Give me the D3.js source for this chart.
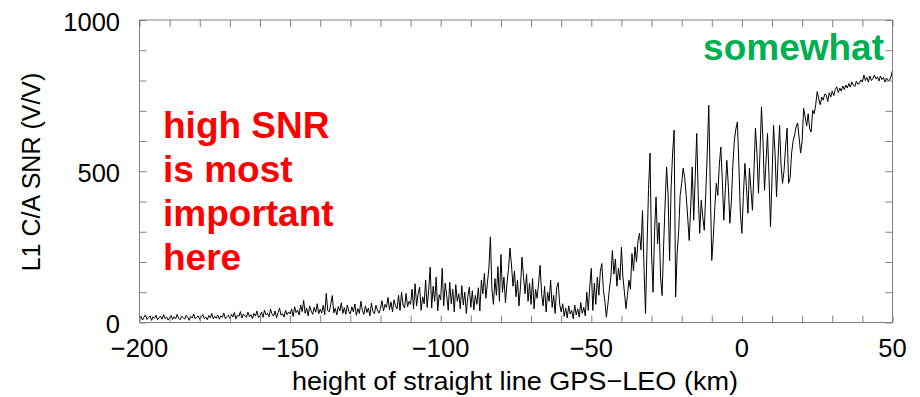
<!DOCTYPE html>
<html>
<head>
<meta charset="utf-8">
<script src="https://cdn.jsdelivr.net/npm/d3@7"></script>
<style>
  html, body { margin: 0; padding: 0; background: #fff; }
  svg { display: block; }
  text { font-family: "Liberation Sans", Arial, Helvetica, sans-serif; }
</style>
</head>
<body>
<svg id="chart" width="920" height="397"></svg>
<script>
// ---- data ----
const heightStart = -200;   // km
const heightStep = 0.5;     // km between samples
const snrValues = [
  // -200 .. -190.5
  12, 20, 8, 18, 25, 10, 16, 22, 7, 19, 14, 24, 9, 17, 21, 11, 26, 13, 18, 8,
  // -190 .. -180.5
  15, 23, 10, 19, 12, 27, 14, 9, 21, 16, 11, 24, 18, 7, 20, 15, 28, 12, 17, 22,
  // -180 .. -170.5
  10, 19, 26, 13, 18, 9, 23, 16, 30, 12, 20, 14, 25, 11, 22, 17, 31, 13, 19, 24,
  // -170 .. -160.5
  14, 27, 18, 33, 12, 24, 20, 36, 15, 28, 22, 17, 34, 19, 26, 13, 30, 21, 38, 16,
  // -160 .. -150.5
  22, 35, 17, 41, 25, 30, 19, 44, 28, 21, 38, 16, 33, 47, 24, 29, 18, 40, 26, 35,
  // -150 .. -140.5
  28, 45, 20, 52, 33, 41, 25, 58, 36, 73, 30, 48, 22, 55, 38, 27, 50, 34, 62, 29,
  // -140 .. -130.5
  44, 31, 57, 26, 96, 40, 35, 60, 89, 32, 47, 25, 53, 38, 65, 30, 49, 27, 58, 36,
  // -130 .. -120.5
  28, 52, 35, 61, 24, 46, 30, 70, 39, 27, 55, 33, 48, 22, 64, 37, 29, 57, 41, 31,
  // -120 .. -110.5
  46, 72, 38, 60, 50, 83, 42, 68, 35, 75, 55, 45, 90, 40, 100, 58, 48, 96, 52, 70,
  // -110 .. -100.5
  60, 110, 45, 128, 55, 95, 117, 40, 85, 62, 140, 50, 105, 183, 48, 120, 70, 150, 38, 92,
  // -100 .. -90.5
  75, 179, 55, 130, 88, 40, 133, 62, 110, 35, 125, 70, 95, 45, 122, 58, 100, 30, 85, 117,
  // -90 .. -80.5
  50, 105, 42, 90, 60, 115, 38, 140, 95, 162, 80, 130, 180, 283, 110, 60, 145, 90, 185, 70,
  // -80 .. -70.5
  225, 100, 150, 65, 130, 175, 246, 190, 120, 170, 85, 140, 55, 120, 216, 150, 95, 160, 70, 130,
  // -70 .. -60.5
  60, 145, 45, 110, 80, 130, 189, 95, 55, 120, 35, 100, 70, 140, 50, 90, 30, 115, 132, 60,
  // -60 .. -50.5
  35, 62, 20, 48, 15, 55, 28, 40, 12, 58, 25, 45, 18, 66, 30, 50, 22, 100, 40, 120,
  // -50 .. -40.5
  179, 40, 130, 60, 150, 90, 170, 195, 110, 70, 18, 60, 110, 150, 238, 160, 210, 120, 180, 140,
  // -40 .. -30.5
  249, 150, 100, 46, 90, 140, 110, 228, 170, 250, 200, 270, 295, 240, 370, 180, 30, 250, 440, 560,
  // -30 .. -20.5
  230, 100, 300, 415, 260, 330, 150, 89, 250, 394, 514, 420, 205, 448, 560, 636, 84, 228, 300, 420,
  // -20 .. -10.5
  460, 510, 480, 420, 349, 271, 380, 514, 338, 480, 625, 420, 295, 404, 350, 305, 427, 560, 718, 450,
  // -10 .. -0.5
  205, 280, 380, 460, 420, 520, 580, 470, 338, 440, 536, 450, 328, 400, 520, 603, 640, 663, 520, 360,
  // 0 .. 9.5
  295, 420, 526, 450, 361, 510, 440, 371, 500, 642, 560, 427, 560, 713, 600, 437, 530, 625, 480, 316,
  // 10 .. 19.5
  480, 652, 560, 415, 540, 652, 520, 460, 503, 580, 642, 460, 477, 560, 600, 620, 647, 660, 610, 560,
  // 20 .. 29.5
  600, 708, 680, 650, 690, 640, 630, 702, 690, 720, 763, 740, 720, 745, 735, 755, 752, 730, 760, 745,
  // 30 .. 39.5
  765, 750, 770, 779, 760, 775, 765, 782, 770, 785, 775, 790, 778, 795, 785, 780, 798, 788, 790, 802,
  // 40 .. 49.5
  795, 818, 800, 810, 795, 815, 800, 807, 818, 805, 812, 798, 815, 803, 810, 795, 808, 800, 801, 812,
  // 50
  834
];
const xTickValues = [-200, -150, -100, -50, 0, 50];
const xMinorTicks = d3.range(-200, 51, 10);
const yTickValues = [0, 500, 1000];
const yMinorTicks = d3.range(0, 1001, 100);
const xTitle = "height of straight line GPS\u2212LEO (km)";
const yTitle = "L1 C/A SNR (V/V)";
const noteRed = ["high SNR", "is most", "important", "here"];
const noteGreen = "somewhat";

const data = snrValues.map((v, i) => ({ h: heightStart + i * heightStep, v }));

// ---- layout ----
const svg = d3.select("#chart");
const x = d3.scaleLinear().domain([-200, 50]).range([139.5, 892.5]);
const y = d3.scaleLinear().domain([0, 1000]).range([322.5, 20]);
const frameColor = "#808080";
const tickLen = 7;

// data line
svg.append("path")
  .datum(data)
  .attr("fill", "none")
  .attr("stroke", "#000")
  .attr("stroke-width", 1)
  .attr("stroke-linejoin", "round")
  .attr("d", d3.line().x(d => x(d.h)).y(d => y(d.v)));

// frame
svg.append("rect")
  .attr("x", x.range()[0]).attr("y", y.range()[1])
  .attr("width", x.range()[1] - x.range()[0])
  .attr("height", y.range()[0] - y.range()[1])
  .attr("fill", "none").attr("stroke", frameColor).attr("stroke-width", 1);

// inward ticks on all four sides
const fmt = d => d < 0 ? "\u2212" + Math.abs(d) : String(d);
const axB = d3.axisBottom(x).tickValues(xMinorTicks).tickSizeInner(-tickLen).tickSizeOuter(0).tickFormat("");
const axT = d3.axisTop(x).tickValues(xMinorTicks).tickSizeInner(-tickLen).tickSizeOuter(0).tickFormat("");
const axL = d3.axisLeft(y).tickValues(yMinorTicks).tickSizeInner(-tickLen).tickSizeOuter(0).tickFormat("");
const axR = d3.axisRight(y).tickValues(yMinorTicks).tickSizeInner(-tickLen).tickSizeOuter(0).tickFormat("");
function styleAxis(g) {
  g.select(".domain").remove();
  g.selectAll(".tick line").attr("stroke", frameColor);
}
svg.append("g").attr("transform", `translate(0,${y.range()[0]})`).call(axB).call(styleAxis);
svg.append("g").attr("transform", `translate(0,${y.range()[1]})`).call(axT).call(styleAxis);
svg.append("g").attr("transform", `translate(${x.range()[0]},0)`).call(axL).call(styleAxis);
svg.append("g").attr("transform", `translate(${x.range()[1]},0)`).call(axR).call(styleAxis);

// tick labels
svg.append("g").selectAll("text").data(xTickValues).join("text")
  .attr("x", d => x(d)).attr("y", 357)
  .attr("text-anchor", "middle")
  .attr("font-size", 25.5).attr("fill", "#000")
  .text(fmt);
svg.append("g").selectAll("text").data(yTickValues).join("text")
  .attr("x", 120).attr("y", d => y(d) + (d === 0 ? 10 : 11))
  .attr("text-anchor", "end")
  .attr("font-size", 25.5).attr("fill", "#000")
  .text(fmt);

// axis titles
svg.append("text")
  .attr("x", 515).attr("y", 390)
  .attr("text-anchor", "middle").attr("font-size", 26).attr("fill", "#000")
  .attr("textLength", 446).attr("lengthAdjust", "spacingAndGlyphs")
  .text(xTitle);
svg.append("text")
  .attr("transform", `translate(40,172) rotate(-90)`)
  .attr("text-anchor", "middle").attr("font-size", 25).attr("fill", "#000")
  .text(yTitle);

// annotations
svg.append("g").selectAll("text").data(noteRed).join("text")
  .attr("x", 163).attr("y", (d, i) => 138 + i * 44)
  .attr("font-size", 37).attr("font-weight", "bold").attr("fill", "#ff0000")
  .text(d => d);
svg.append("text")
  .attr("x", 884).attr("y", 60).attr("text-anchor", "end")
  .attr("font-size", 37).attr("font-weight", "bold").attr("fill", "#00b050")
  .text(noteGreen);
</script>
</body>
</html>
